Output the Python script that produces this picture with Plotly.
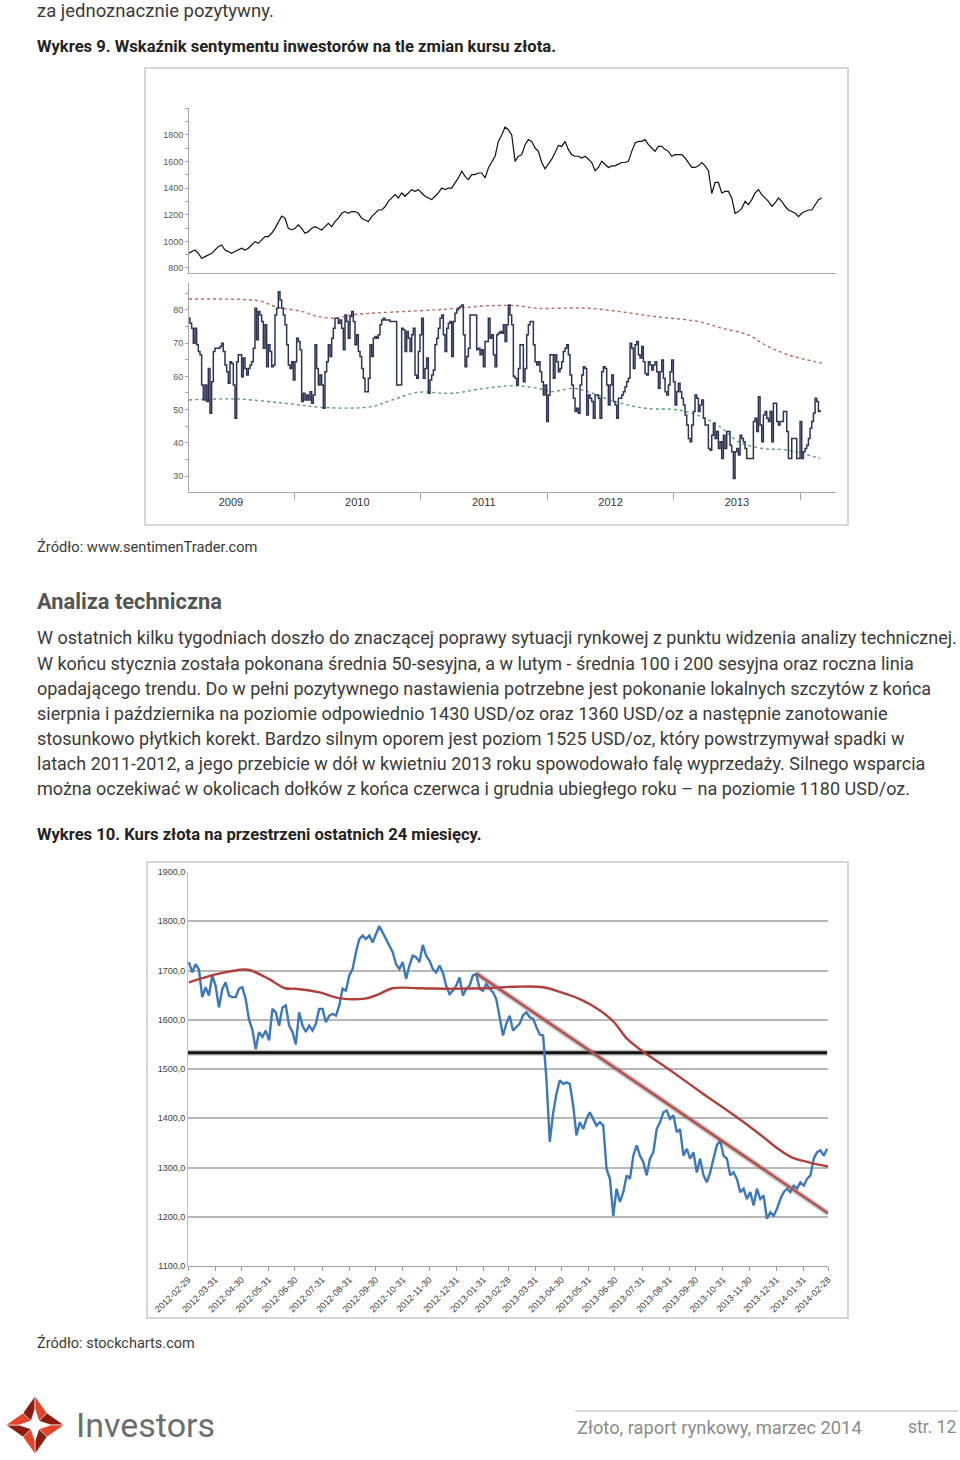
import plotly.graph_objects as go
import pandas as pd

W, H = 960, 1460
def px(x): return x / W
def py(y): return 1 - y / H

# ---------------- Chart 9 data ----------------
gold9_start, gold9_end = "2009-03-01", "2014-03-04"
gold9 = [910, 923, 935, 910, 873, 885, 898, 910, 935, 960, 973, 935, 923, 910, 923, 935, 948, 935, 948, 973,
         998, 985, 1010, 1035, 1035, 1061, 1098, 1149, 1190, 1174, 1098, 1086, 1098, 1124, 1098, 1061, 1073, 1098, 1111, 1098,
         1086, 1111, 1136, 1111, 1149, 1174, 1211, 1224, 1211, 1224, 1224, 1211, 1174, 1161, 1149, 1186, 1211, 1236, 1236, 1260,
         1301, 1326, 1351, 1326, 1364, 1339, 1364, 1389, 1376, 1389, 1364, 1339, 1326, 1314, 1339, 1364, 1401, 1389, 1401, 1401,
         1440, 1477, 1527, 1489, 1464, 1502, 1502, 1514, 1514, 1477, 1552, 1602, 1640, 1752, 1800, 1860, 1840, 1800, 1602,
         1640, 1652, 1727, 1765, 1752, 1702, 1677, 1593, 1545, 1581, 1618, 1667, 1722, 1714, 1752, 1690, 1652, 1640, 1640, 1627,
         1640, 1618, 1593, 1531, 1556, 1602, 1581, 1556, 1568, 1568, 1581, 1593, 1593, 1602, 1677, 1740, 1752, 1752, 1765, 1727,
         1702, 1677, 1714, 1714, 1690, 1677, 1640, 1652, 1652, 1652, 1627, 1593, 1556, 1556, 1568, 1593, 1568, 1531, 1360, 1443,
         1443, 1364, 1376, 1376, 1326, 1211, 1224, 1248, 1301, 1276, 1314, 1364, 1389, 1351, 1326, 1301, 1264, 1289, 1326, 1301,
         1264, 1236, 1224, 1211, 1186, 1211, 1224, 1236, 1236, 1276, 1314, 1326]

sent_start, sent_end = "2009-03-01", "2014-02-27"
sentiment = [
    77.5, 76.0, 74.5, 70.0, 74.5, 69.5, 67.5, 66.5, 57.4, 52.9, 57.4, 52.4, 62.4, 48.9, 58.4, 67.5, 68.5, 68.5, 68.5, 69.0,
    70.0, 67.5, 63.4, 61.4, 57.9, 64.4, 63.9, 57.4, 47.4, 64.4, 66.5, 66.5, 59.9, 65.5, 62.4, 60.4, 62.4, 63.4, 64.4, 68.5,
    80.5, 71.0, 79.5, 78.5, 76.5, 68.5, 75.5, 62.9, 69.5, 67.5, 62.9, 63.4, 78.5, 80.5, 85.5, 83.0, 80.5, 78.5, 75.5, 69.5,
    63.4, 62.4, 64.4, 58.9, 64.4, 71.5, 70.5, 68.0, 52.4, 54.9, 52.9, 54.4, 52.9, 55.4, 51.9, 54.4, 69.5, 62.4, 57.4, 60.4,
    57.4, 50.4, 61.4, 64.4, 69.5, 66.0, 71.5, 74.5, 77.5, 77.5, 76.0, 77.0, 74.5, 68.0, 78.5, 76.5, 71.5, 78.0, 79.5, 76.5,
    69.5, 72.5, 67.5, 66.0, 62.4, 59.4, 55.4, 55.4, 59.4, 69.5, 66.0, 71.5, 72.0, 71.5, 72.5, 75.5, 77.0, 77.5, 77.0, 77.0,
    77.0, 76.5, 76.5, 76.5, 76.5, 57.4, 57.4, 57.4, 74.5, 74.0, 67.5, 73.5, 71.5, 67.5, 72.5, 74.5, 60.4, 59.4, 67.5, 72.5,
    77.5, 59.4, 62.4, 65.5, 54.9, 58.9, 60.4, 61.9, 69.5, 71.5, 74.5, 77.5, 78.5, 72.5, 67.5, 74.5, 76.0, 76.5, 66.0, 76.5,
    79.0, 80.0, 80.5, 81.0, 81.5, 72.5, 62.9, 66.0, 68.5, 78.5, 78.5, 78.5, 78.5, 68.0, 68.5, 66.5, 68.0, 62.9, 70.5, 70.5,
    77.5, 71.5, 72.5, 66.5, 62.9, 72.5, 73.0, 73.5, 73.0, 75.5, 70.5, 75.5, 81.5, 78.5, 75.5, 60.0, 59.4,
    57.4, 62.4, 69.5, 69.5, 58.4, 62.4, 72.5, 75.5, 76.5, 76.5, 69.5, 64.4, 63.4, 64.4, 61.4, 58.4, 54.4, 57.4, 46.4, 54.4,
    66.5, 66.5, 59.4, 66.5, 64.4, 61.4, 62.4, 64.4, 67.5, 68.5, 69.5, 66.5, 60.4, 57.4, 53.4, 49.4, 50.4, 48.9, 57.4, 60.4,
    62.9, 62.4, 48.4, 54.4, 53.4, 52.4, 47.4, 54.4, 54.4, 53.4, 47.4, 61.4, 62.9, 62.4, 57.4, 51.4, 57.4, 60.4, 52.4, 51.4,
    47.4, 53.4, 53.4, 54.4, 55.4, 56.9, 58.4, 59.4, 70.0, 68.5, 62.4, 69.5, 70.5, 66.5, 65.5, 69.0, 64.4, 60.9, 60.4, 64.4,
    63.4, 61.9, 63.4, 64.4, 61.4, 56.4, 61.4, 64.9, 59.4, 55.4, 54.4, 57.4, 61.4, 64.9, 58.4, 51.4, 55.4, 57.9, 55.4, 53.4,
    51.4, 48.4, 45.4, 41.3, 40.3, 45.4, 49.4, 54.4, 53.4, 49.4, 51.4, 52.9, 47.4, 45.4, 45.4, 38.3, 37.8, 42.3, 45.9, 41.3,
    43.4, 38.3, 40.3, 35.3, 42.3, 38.3, 43.4, 43.4, 39.3, 37.3, 29.3, 37.3, 38.3, 36.3, 42.3, 41.3, 40.3, 38.3, 35.3, 35.3,
    35.3, 35.3, 46.4, 47.4, 43.4, 53.9, 45.4, 40.3, 48.4, 49.4, 47.4, 46.4, 49.4, 40.3, 51.9, 51.9, 46.4, 45.4, 46.4, 46.4,
    49.4, 49.4, 43.4, 35.3, 35.3, 41.3, 41.3, 41.3, 35.3, 35.3, 46.4, 35.3, 37.3, 38.3, 39.3, 41.3, 44.4, 46.4, 48.9, 53.4,
    52.4, 49.4, 49.9]

upper_dates = ["2009-03-03", "2009-09-01", "2009-09-30", "2009-11-07", "2010-01-24", "2010-03-11", "2010-04-20",
               "2010-05-05", "2010-06-17", "2010-08-13", "2010-11-08", "2011-02-12", "2011-04-18", "2011-07-05",
               "2011-09-30", "2011-12-05", "2012-04-27", "2012-09-02", "2012-11-07", "2013-03-12", "2013-05-20",
               "2013-08-03", "2013-09-21", "2013-11-26", "2014-03-04"]
upper_band = [83.3, 83.0, 82.5, 81.0, 79.5, 78.0, 77.5, 77.5, 78.5, 79.0, 79.5, 80.0, 80.5, 81.2, 81.3, 80.5, 80.5,
              79.0, 78.0, 76.5, 74.5, 72.5, 69.5, 66.5, 64.0]
lower_dates = ["2009-03-03", "2009-07-14", "2009-12-05", "2010-03-31", "2010-08-13", "2010-10-10", "2010-12-24",
               "2011-04-01", "2011-07-05", "2011-09-30", "2011-12-05", "2012-01-15", "2012-03-13", "2012-04-27",
               "2012-07-15", "2012-10-10", "2013-01-14", "2013-04-01", "2013-05-20", "2013-07-05", "2013-09-13",
               "2013-11-26", "2014-02-27"]
lower_band = [52.9, 53.2, 51.9, 50.6, 50.9, 52.9, 55.2, 54.9, 56.4, 57.2, 56.4, 55.4, 56.4, 55.4, 52.4, 50.4, 49.9,
              47.4, 44.4, 40.4, 38.3, 37.8, 35.3]

year_labels = ["2009", "2010", "2011", "2012", "2013"]
year_label_pos = ["2009-07-02", "2010-07-02", "2011-07-02", "2012-07-02", "2013-07-02"]

# ---------------- Chart 10 data ----------------
gold10_start, gold10_end = "2012-03-01", "2014-02-27"
gold10 = [1717, 1696, 1713, 1702, 1646, 1666, 1649, 1690, 1669, 1625, 1662, 1676, 1649, 1646, 1646, 1663, 1666, 1642,
          1600, 1580, 1540, 1575, 1565, 1578, 1558, 1622, 1615, 1588, 1625, 1629, 1588, 1575, 1550, 1615, 1588, 1575,
          1588, 1578, 1592, 1622, 1622, 1595, 1608, 1612, 1608, 1629, 1663, 1659, 1690, 1703, 1737, 1764, 1771, 1764,
          1771, 1757, 1774, 1790, 1777, 1764, 1751, 1737, 1713, 1703, 1717, 1683, 1710, 1730, 1727, 1717, 1752, 1730,
          1720, 1703, 1696, 1710, 1696, 1669, 1652, 1659, 1669, 1686, 1649, 1663, 1669, 1690, 1693, 1663, 1659, 1673,
          1663, 1656, 1642, 1608, 1568, 1592, 1608, 1578, 1585,
          1592, 1609, 1615, 1605, 1602, 1585, 1570, 1568, 1480, 1352, 1410, 1450, 1477, 1470, 1473, 1470, 1426, 1365,
          1392, 1378, 1399, 1412, 1399, 1385, 1392, 1385, 1297, 1277, 1202, 1257, 1230, 1250, 1284, 1277, 1324, 1345,
          1324, 1311, 1284, 1318, 1331, 1378, 1392, 1412, 1416, 1399, 1406, 1372, 1378, 1324, 1338, 1318, 1331, 1290,
          1318, 1284, 1270, 1290, 1318, 1345, 1355, 1324, 1318, 1284, 1290, 1277, 1250, 1257, 1236, 1250, 1223, 1257,
          1236, 1243, 1196, 1209, 1202, 1216, 1236, 1250, 1257, 1250, 1263, 1257, 1270, 1263, 1277, 1284, 1318, 1331,
          1335, 1324, 1338]

ma_dates = ["2012-03-01", "2012-04-03", "2012-05-03", "2012-05-11", "2012-05-31", "2012-06-19", "2012-06-30",
            "2012-07-27", "2012-08-19", "2012-09-18", "2012-10-04", "2012-10-19", "2012-11-18", "2012-12-27",
            "2013-02-03", "2013-03-08", "2013-04-09", "2013-04-29", "2013-05-21", "2013-06-13", "2013-06-29",
            "2013-07-14", "2013-07-30", "2013-08-30", "2013-10-06", "2013-11-13", "2013-12-14", "2014-01-02",
            "2014-01-17", "2014-02-05", "2014-02-28"]
ma200 = [1676, 1693, 1702, 1700, 1683, 1664, 1663, 1656, 1644, 1643, 1652, 1664, 1664, 1663, 1664, 1667, 1666, 1656,
         1642, 1619, 1595, 1561, 1538, 1500, 1453, 1406, 1365, 1338, 1321, 1311, 1302]

trend_dates = ["2013-01-23", "2014-02-28"]
trend_vals = [1694, 1207]
support_dates = ["2012-02-29", "2014-02-27"]
support_vals = [1533, 1533]

month_ticks = ["2012-02-29", "2012-03-31", "2012-04-30", "2012-05-31", "2012-06-30", "2012-07-31", "2012-08-31",
               "2012-09-30", "2012-10-31", "2012-11-30", "2012-12-31", "2013-01-31", "2013-02-28", "2013-03-31",
               "2013-04-30", "2013-05-31", "2013-06-30", "2013-07-31", "2013-08-31", "2013-09-30", "2013-10-31",
               "2013-11-30", "2013-12-31", "2014-01-31", "2014-02-28"]
y10_ticks = [1100, 1200, 1300, 1400, 1500, 1600, 1700, 1800, 1900]
y10_text = ["1100,0", "1200,0", "1300,0", "1400,0", "1500,0", "1600,0", "1700,0", "1800,0", "1900,0"]

# ---------------- Figure ----------------
fig = go.Figure()

d_gold9 = pd.date_range(gold9_start, gold9_end, periods=len(gold9))
d_sent = pd.date_range(sent_start, sent_end, periods=len(sentiment))
d_gold10 = pd.date_range(gold10_start, gold10_end, periods=len(gold10))

fig.add_trace(go.Scatter(x=d_gold9, y=gold9, mode="lines", line=dict(color="#111111", width=1.2),
                         xaxis="x", yaxis="y"))
fig.add_trace(go.Scatter(x=upper_dates, y=upper_band, mode="lines", line=dict(color="#b86a62", width=1.4, dash="3px,3px", shape="spline"),
                         xaxis="x2", yaxis="y2"))
fig.add_trace(go.Scatter(x=lower_dates, y=lower_band, mode="lines", line=dict(color="#5e9c7a", width=1.4, dash="3px,3px", shape="spline"),
                         xaxis="x2", yaxis="y2"))
fig.add_trace(go.Scatter(x=d_sent, y=sentiment, mode="lines", line=dict(color="#2e3554", width=1.5, shape="hv"),
                         xaxis="x2", yaxis="y2"))

# chart 10
fig.add_trace(go.Scatter(x=support_dates, y=support_vals, mode="lines", line=dict(color="rgba(90,90,90,0.35)", width=6),
                         xaxis="x3", yaxis="y3"))
fig.add_trace(go.Scatter(x=support_dates, y=support_vals, mode="lines", line=dict(color="#111111", width=3),
                         xaxis="x3", yaxis="y3"))
fig.add_trace(go.Scatter(x=d_gold10, y=gold10, mode="lines", line=dict(color="#3d79b8", width=2.4),
                         xaxis="x3", yaxis="y3"))
fig.add_trace(go.Scatter(x=ma_dates, y=ma200, mode="lines", line=dict(color="#b0403c", width=2.4, shape="spline"),
                         xaxis="x3", yaxis="y3"))
fig.add_trace(go.Scatter(x=trend_dates, y=trend_vals, mode="lines", line=dict(color="rgba(110,110,110,0.35)", width=6),
                         xaxis="x3", yaxis="y3"))
fig.add_trace(go.Scatter(x=trend_dates, y=trend_vals, mode="lines", line=dict(color="#b5504c", width=2.6),
                         xaxis="x3", yaxis="y3"))

tickfont9 = dict(family="Liberation Sans, Arial", size=9, color="#555555")
x9_range = ["2009-03-03", "2014-04-14"]

fig.update_layout(
    template="none",
    width=W, height=H, margin=dict(l=0, r=0, t=0, b=0, pad=0, autoexpand=False), autosize=False,
    paper_bgcolor="white", plot_bgcolor="white", showlegend=False,
    xaxis=dict(domain=[px(189), px(836)], anchor="y", range=x9_range, type="date", automargin=False,
               showticklabels=False, ticks="", showgrid=False, zeroline=False,
               showline=True, linecolor="#a6a6a6", linewidth=1),
    yaxis=dict(domain=[py(273), py(108)], anchor="x", range=[762, 2003], automargin=False,
               tickmode="array", tickvals=[800, 1000, 1200, 1400, 1600, 1800],
               ticks="outside", ticklen=3, tickcolor="#a6a6a6", tickfont=tickfont9,
               minor=dict(dtick=100, ticks="outside", ticklen=3, tickcolor="#a6a6a6", showgrid=False),
               showgrid=False, zeroline=False, showline=True, linecolor="#a6a6a6", linewidth=1),
    xaxis2=dict(domain=[px(189), px(836)], anchor="y2", range=x9_range, type="date", automargin=False,
                tickmode="array", tickvals=year_label_pos, ticktext=year_labels, ticks="",
                tickfont=dict(family="Liberation Sans, Arial", size=11, color="#333333"),
                minor=dict(dtick="M12", tick0="2009-01-01", ticks="outside", ticklen=7, tickcolor="#a6a6a6", showgrid=False),
                showgrid=False, zeroline=False, showline=True, linecolor="#a6a6a6", linewidth=1),
    yaxis2=dict(domain=[py(492), py(283)], anchor="x2", range=[25.2, 88.1], automargin=False,
                tickmode="array", tickvals=[30, 40, 50, 60, 70, 80],
                ticks="outside", ticklen=3, tickcolor="#a6a6a6", tickfont=tickfont9,
                minor=dict(dtick=5, ticks="outside", ticklen=3, tickcolor="#a6a6a6", showgrid=False),
                showgrid=False, zeroline=False, showline=True, linecolor="#a6a6a6", linewidth=1),
    xaxis3=dict(domain=[px(188), px(828)], anchor="y3", range=["2012-02-29", "2014-02-28"], type="date",
                automargin=False,
                tickmode="array", tickvals=month_ticks, ticktext=month_ticks, tickangle=-45,
                tickfont=dict(family="Liberation Sans, Arial", size=9, color="#404040"),
                ticks="outside", ticklen=4, tickcolor="#999999",
                showgrid=False, zeroline=False, showline=True, linecolor="#a0a0a0", linewidth=1),
    yaxis3=dict(domain=[py(1266), py(872)], anchor="x3", range=[1100, 1900], automargin=False,
                tickmode="array", tickvals=y10_ticks, ticktext=y10_text,
                tickfont=dict(family="Liberation Sans, Arial", size=9, color="#404040"), ticks="",
                showgrid=True, gridcolor="#b8b8b8", gridwidth=1.5, zeroline=False,
                showline=True, linecolor="#c0c0c0", linewidth=1),
)

shapes = [
    dict(type="rect", xref="paper", yref="paper", x0=px(145), x1=px(848), y0=py(525), y1=py(68),
         line=dict(color="#c9c9c9", width=1.5), layer="below"),
    dict(type="rect", xref="paper", yref="paper", x0=px(147), x1=px(848), y0=py(1318), y1=py(862),
         line=dict(color="#c9c9c9", width=1.5), layer="below"),
    dict(type="line", xref="paper", yref="paper", x0=px(575), x1=px(958), y0=py(1411), y1=py(1411),
         line=dict(color="#b3b3b3", width=1.2)),
]

# logo (decoration)
def ppath(pts):
    return "M " + " L ".join(f"{px(x):.5f},{py(y):.5f}" for x, y in pts) + " Z"

T, R, B, L = (35, 1396), (64, 1425), (35, 1454), (6, 1425)
TR, BR, BL, TL = (47, 1413), (47, 1437), (23, 1437), (23, 1413)
t, r, b, l = (35, 1409), (51, 1425), (35, 1441), (19, 1425)
itr, ibr, ibl, itl = (39, 1421), (39, 1429), (31, 1429), (31, 1421)
bright, dark = "#e2452c", "#8c1c12"
pieces = [
    ([T, t, itl, TL], dark), ([T, TR, itr, t], bright),
    ([R, r, itr, TR], dark), ([R, BR, ibr, r], bright),
    ([B, b, ibr, BR], dark), ([B, BL, ibl, b], bright),
    ([L, l, ibl, BL], dark), ([L, TL, itl, l], bright),
]
for pts, col in pieces:
    shapes.append(dict(type="path", xref="paper", yref="paper", path=ppath(pts),
                       fillcolor=col, line=dict(width=0.6, color="white")))
fig.update_layout(shapes=shapes)

body_font = "Roboto, Open Sans, sans-serif"
def txt(x, y, s, size, color="#3a3a3a", bold=False, family=body_font):
    fig.add_annotation(x=px(x), y=py(y), xref="paper", yref="paper", text=(f"<b>{s}</b>" if bold else s),
                       showarrow=False, xanchor="left", yanchor="middle",
                       font=dict(family=family, size=size, color=color))

txt(35, 11, "za jednoznacznie pozytywny.", 18.5)
txt(35, 46, "Wykres 9. Wskaźnik sentymentu inwestorów na tle zmian kursu złota.", 16.6, "#222222", True)
txt(35, 547, "Źródło: www.sentimenTrader.com", 14.7)
txt(35, 601, "Analiza techniczna", 21.8, "#555555", True)

para = [
    "W ostatnich kilku tygodniach doszło do znaczącej poprawy sytuacji rynkowej z punktu widzenia analizy technicznej.",
    "W końcu stycznia została pokonana średnia 50-sesyjna, a w lutym - średnia 100 i 200 sesyjna oraz roczna linia",
    "opadającego trendu. Do w pełni pozytywnego nastawienia potrzebne jest pokonanie lokalnych szczytów z końca",
    "sierpnia i października na poziomie odpowiednio 1430 USD/oz oraz 1360 USD/oz a następnie zanotowanie",
    "stosunkowo płytkich korekt. Bardzo silnym oporem jest poziom 1525 USD/oz, który powstrzymywał spadki w",
    "latach 2011-2012, a jego przebicie w dół w kwietniu 2013 roku spowodowało falę wyprzedaży. Silnego wsparcia",
    "można oczekiwać w okolicach dołków z końca czerwca i grudnia ubiegłego roku – na poziomie 1180 USD/oz.",
]
for i, line in enumerate(para):
    txt(35, 638 + 25 * i, line, 18)

txt(35, 835, "Wykres 10. Kurs złota na przestrzeni ostatnich 24 miesięcy.", 16.6, "#222222", True)
txt(35, 1343, "Źródło: stockcharts.com", 14.5)

txt(74, 1425, "Investors", 34, "#6e6e6e")
txt(575, 1427, "Złoto, raport rynkowy, marzec 2014", 18.3, "#8a8a8a")
txt(906, 1427, "str. 12", 17.5, "#8a8a8a")

fig.write_html("out.html", config={"displayModeBar": False},
               post_script="document.body.style.margin='0';document.body.style.padding='0';document.body.style.overflow='hidden';")
